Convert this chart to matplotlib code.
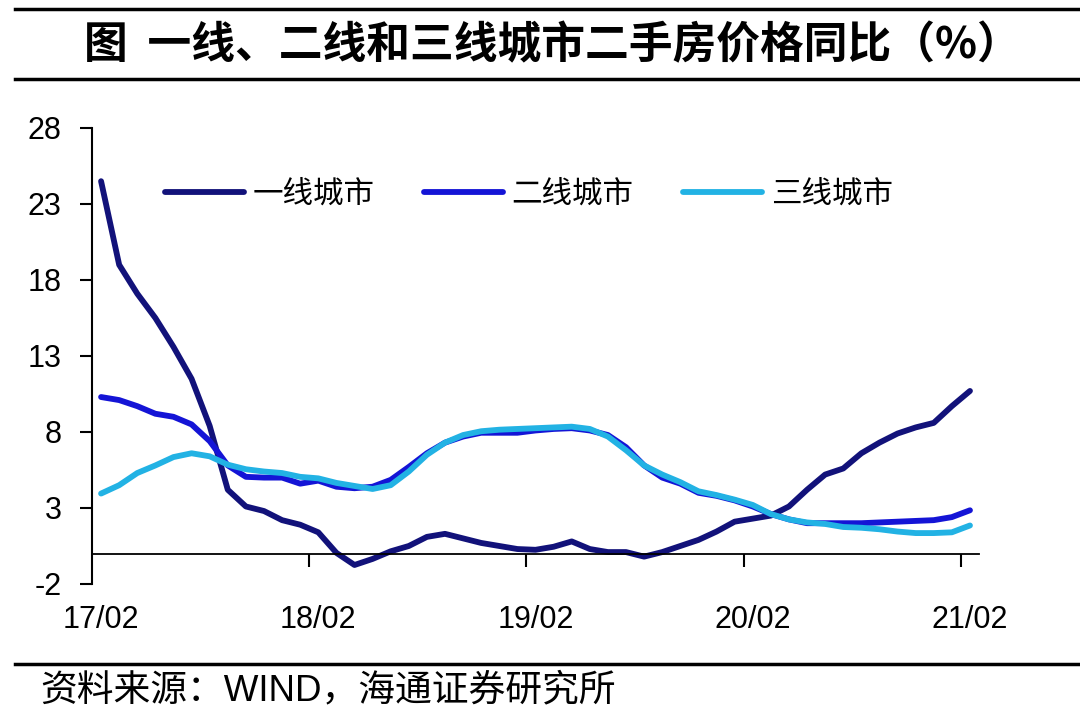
import numpy as np
import matplotlib
matplotlib.use('Agg')
import matplotlib.pyplot as plt
from matplotlib.lines import Line2D

plt.rcParams['font.family'] = ['Liberation Sans', 'Noto Sans CJK SC', 'DejaVu Sans']
plt.rcParams['axes.unicode_minus'] = False

# 月度数据 17/02 - 21/02
tier1 = [24.5, 19.0, 17.1, 15.5, 13.6, 11.5, 8.4, 4.2, 3.1, 2.8,
         2.2, 1.9, 1.4, 0.05, -0.75, -0.35, 0.15, 0.5, 1.1, 1.3,
         1.0, 0.7, 0.5, 0.3, 0.25, 0.45, 0.8, 0.3, 0.1, 0.1,
         -0.2, 0.1, 0.5, 0.9, 1.45, 2.1, 2.3, 2.5, 3.1, 4.2,
         5.2, 5.6, 6.6, 7.3, 7.9, 8.3, 8.6, 9.7, 10.7]
tier2 = [10.3, 10.1, 9.7, 9.2, 9.0, 8.5, 7.4, 5.8, 5.05, 5.0,
         5.0, 4.6, 4.8, 4.4, 4.3, 4.4, 4.85, 5.7, 6.6, 7.3,
         7.7, 7.95, 7.95, 7.95, 8.1, 8.2, 8.25, 8.1, 7.8, 7.0,
         5.8, 5.0, 4.6, 4.0, 3.8, 3.5, 3.1, 2.6, 2.25, 2.0,
         2.0, 2.0, 2.0, 2.05, 2.1, 2.15, 2.2, 2.4, 2.85]
tier3 = [3.95, 4.5, 5.3, 5.8, 6.35, 6.6, 6.4, 5.85, 5.55, 5.4,
         5.3, 5.05, 4.95, 4.65, 4.45, 4.25, 4.5, 5.4, 6.5, 7.3,
         7.8, 8.05, 8.15, 8.2, 8.25, 8.3, 8.35, 8.2, 7.7, 6.8,
         5.8, 5.2, 4.7, 4.1, 3.85, 3.55, 3.2, 2.6, 2.25, 2.05,
         1.95, 1.75, 1.7, 1.6, 1.45, 1.35, 1.35, 1.4, 1.85]
year_labels = ['17/02', '18/02', '19/02', '20/02', '21/02']
series_names = ['一线城市', '二线城市', '三线城市']
colors = ['#12127A', '#1414D6', '#22B2E4']

n = len(tier1)
x = np.arange(n) + 0.5

fig = plt.figure(figsize=(10.8, 7.26), dpi=100)
ax = fig.add_axes([0.0852, 0.1956, 0.8213, 0.6281])

for vals, name, c in zip([tier1, tier2, tier3], series_names, colors):
    ax.plot(x, vals, color=c, lw=4.2, label=name, solid_joinstyle='round',
            solid_capstyle='round')

ax.set_xlim(0, n)
ax.set_ylim(-2, 28)
ax.set_yticks(np.arange(-2, 29, 5))

ax.spines['top'].set_visible(False)
ax.spines['right'].set_visible(False)
ax.spines['bottom'].set_position(('data', 0))
ax.spines['left'].set_linewidth(1.5)
ax.spines['bottom'].set_linewidth(1.3)

ax.set_xticks([12, 24, 36, 48])
ax.set_xticklabels([])
ax.set_xticks(np.arange(0, n, 12) + 0.5, minor=True)
ax.set_xticklabels(year_labels, minor=True)
ax.tick_params(axis='x', which='major', direction='out', length=9, width=1.5)
ax.tick_params(axis='x', which='minor', length=0, pad=37, labelsize=22)
ax.tick_params(axis='y', direction='out', length=9, width=1.5, pad=13, labelsize=22)

ax.legend(loc='center left', bbox_to_anchor=(0.082, 0.855), ncol=3, frameon=False,
          prop={'family': ['Noto Sans CJK SC'], 'size': 22},
          handlelength=2.6, handletextpad=0.28, columnspacing=1.6,
          borderpad=0, borderaxespad=0)

# 标题与框线
fig.add_artist(Line2D([0.014, 1.0], [0.9876, 0.9876], color='black', lw=2.5))
fig.add_artist(Line2D([0.014, 1.0], [0.891, 0.891], color='black', lw=2.5))
fig.add_artist(Line2D([0.014, 1.0], [0.0854, 0.0854], color='black', lw=2.5))
fig.text(0.5115, 0.938, '图  一线、二线和三线城市二手房价格同比（%）', ha='center', va='center',
         fontsize=31.5, fontweight='bold', family=['Noto Sans CJK SC', 'DejaVu Sans'])
fig.text(0.037, 0.049, '资料来源：WIND，海通证券研究所', ha='left', va='center',
         fontsize=26.5, family=['Liberation Sans', 'Noto Sans CJK SC'])

fig.savefig('out.png', dpi=100, facecolor='white')
